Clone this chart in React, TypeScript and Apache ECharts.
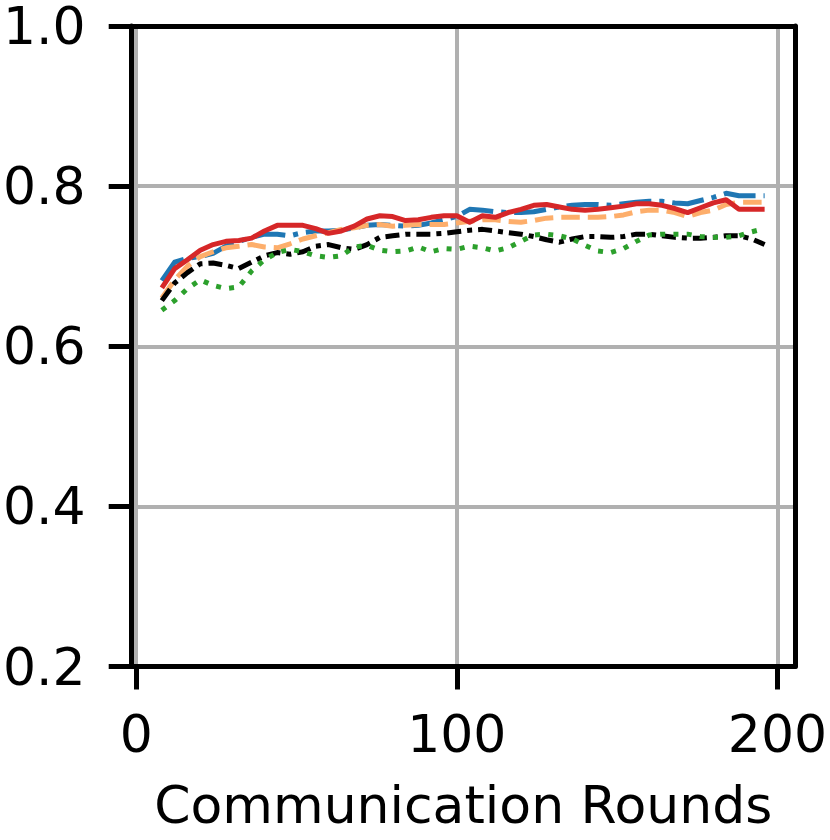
import React, { useEffect, useRef } from "react";
import * as echarts from "echarts";

const rounds = [8, 12, 16, 20, 24, 28, 32, 36, 40, 44, 48, 52, 56, 60, 64, 68, 72, 76, 80, 84, 88, 92, 96, 100, 104, 108, 112, 116, 120, 124, 128, 132, 136, 140, 144, 148, 152, 156, 160, 164, 168, 172, 176, 180, 184, 188, 192, 196];

const blueValues = [0.682, 0.705, 0.71, 0.712, 0.716, 0.725, 0.731, 0.736, 0.74, 0.74, 0.738, 0.742, 0.744, 0.744, 0.745, 0.748, 0.751, 0.752, 0.751, 0.75, 0.751, 0.754, 0.758, 0.762, 0.771, 0.77, 0.768, 0.767, 0.767, 0.768, 0.771, 0.774, 0.776, 0.777, 0.777, 0.776, 0.778, 0.78, 0.781, 0.781, 0.779, 0.778, 0.782, 0.786, 0.791, 0.788, 0.788, 0.788];

const orangeValues = [0.66, 0.683, 0.7, 0.712, 0.718, 0.723, 0.725, 0.727, 0.724, 0.723, 0.728, 0.734, 0.738, 0.742, 0.746, 0.748, 0.751, 0.752, 0.75, 0.751, 0.752, 0.752, 0.752, 0.754, 0.756, 0.758, 0.758, 0.756, 0.755, 0.757, 0.76, 0.761, 0.761, 0.761, 0.761, 0.762, 0.764, 0.768, 0.77, 0.77, 0.767, 0.762, 0.767, 0.77, 0.777, 0.78, 0.78, 0.78];

const blackValues = [0.657, 0.679, 0.692, 0.703, 0.704, 0.701, 0.697, 0.705, 0.713, 0.717, 0.715, 0.718, 0.725, 0.727, 0.723, 0.721, 0.727, 0.736, 0.738, 0.74, 0.74, 0.74, 0.741, 0.743, 0.745, 0.746, 0.744, 0.742, 0.74, 0.737, 0.733, 0.73, 0.734, 0.737, 0.737, 0.736, 0.737, 0.74, 0.74, 0.738, 0.736, 0.735, 0.735, 0.736, 0.738, 0.738, 0.734, 0.727];

const greenValues = [0.645, 0.657, 0.672, 0.683, 0.676, 0.672, 0.674, 0.694, 0.708, 0.717, 0.721, 0.718, 0.713, 0.711, 0.713, 0.724, 0.726, 0.72, 0.718, 0.719, 0.724, 0.718, 0.722, 0.721, 0.725, 0.723, 0.719, 0.723, 0.731, 0.739, 0.74, 0.738, 0.734, 0.726, 0.719, 0.717, 0.722, 0.731, 0.739, 0.74, 0.74, 0.74, 0.737, 0.736, 0.736, 0.738, 0.743, 0.747];

const redValues = [0.673, 0.697, 0.708, 0.72, 0.727, 0.731, 0.732, 0.735, 0.744, 0.751, 0.751, 0.751, 0.747, 0.741, 0.744, 0.75, 0.759, 0.763, 0.762, 0.757, 0.758, 0.761, 0.763, 0.763, 0.755, 0.763, 0.761, 0.767, 0.771, 0.776, 0.777, 0.774, 0.771, 0.77, 0.771, 0.773, 0.775, 0.778, 0.778, 0.776, 0.772, 0.767, 0.773, 0.779, 0.783, 0.771, 0.771, 0.771];

const xTickValues = [0, 100, 200];

const FONT = "DejaVu Sans";

function pairs(vals: number[]) {
  return rounds.map((r, i) => [r, vals[i]]);
}

function lineSeries(vals: number[], color: string, dash: any) {
  return {
    type: "line",
    data: pairs(vals),
    showSymbol: false,
    symbol: "none",
    xAxisIndex: 0,
    yAxisIndex: 0,
    lineStyle: { color, width: 5, type: dash, cap: "butt", join: "round" },
  };
}

export default function App() {
  const ref = useRef<HTMLDivElement>(null);
  useEffect(() => {
    document.body.style.margin = "0";
    const chart = echarts.init(ref.current!, null, { renderer: "svg" });
    const xMin = -1.4;
    const xMax = 205.4;
    chart.setOption({
      animation: false,
      backgroundColor: "#ffffff",
      grid: { left: 129, right: 32.5, top: 22.4, bottom: 173.5, containLabel: false },
      xAxis: [
        {
          type: "value",
          min: xMin,
          max: xMax,
          position: "bottom",
          name: "Communication Rounds",
          nameLocation: "middle",
          nameGap: 116,
          nameTextStyle: { fontFamily: FONT, fontSize: 52, color: "#000", lineHeight: 44 },
          axisLine: { show: true, lineStyle: { color: "#000", width: 5 } },
          axisTick: { show: true, length: 23, customValues: xTickValues, lineStyle: { color: "#000", width: 5 } },
          axisLabel: {
            customValues: xTickValues,
            margin: 45,
            fontFamily: FONT,
            fontSize: 52,
            lineHeight: 44,
            color: "#000",
            formatter: (v: number) => String(v),
          },
          splitLine: { show: true, lineStyle: { color: "#b0b0b0", width: 4 } },
          z: 3,
        },
        {
          type: "value",
          min: xMin,
          max: xMax,
          position: "top",
          axisLine: { show: true, onZero: false, lineStyle: { color: "#000", width: 5 } },
          axisTick: { show: false },
          axisLabel: { show: false },
          splitLine: { show: false },
          z: 5,
        },
      ],
      yAxis: [
        {
          type: "value",
          min: 0.2,
          max: 1.0,
          interval: 0.2,
          position: "left",
          axisLine: { show: true, onZero: false, lineStyle: { color: "#000", width: 5 } },
          axisTick: { show: true, length: 23, lineStyle: { color: "#000", width: 5 } },
          axisLabel: {
            margin: 46,
            fontFamily: FONT,
            fontSize: 52,
            lineHeight: 44,
            color: "#000",
            formatter: (v: number) => v.toFixed(1),
          },
          splitLine: { show: true, lineStyle: { color: "#b0b0b0", width: 4 } },
          z: 3,
        },
        {
          type: "value",
          min: 0.2,
          max: 1.0,
          interval: 0.2,
          position: "right",
          axisLine: { show: true, onZero: false, lineStyle: { color: "#000", width: 5 } },
          axisTick: { show: false },
          axisLabel: { show: false },
          splitLine: { show: false },
          z: 5,
        },
      ],
      series: [
        lineSeries(blueValues, "#1f77b4", [32, 8, 5, 8]),
        lineSeries(orangeValues, "#fdae6b", [18.5, 8]),
        lineSeries(blackValues, "#000000", [14, 6, 5, 6]),
        lineSeries(greenValues, "#2ca02c", [5, 8.25]),
        lineSeries(redValues, "#d62728", "solid"),
      ],
    });
    return () => chart.dispose();
  }, []);
  return (
    <div
      ref={ref}
      style={{ position: "absolute", left: 0, top: 0, width: 830, height: 840 }}
    />
  );
}
